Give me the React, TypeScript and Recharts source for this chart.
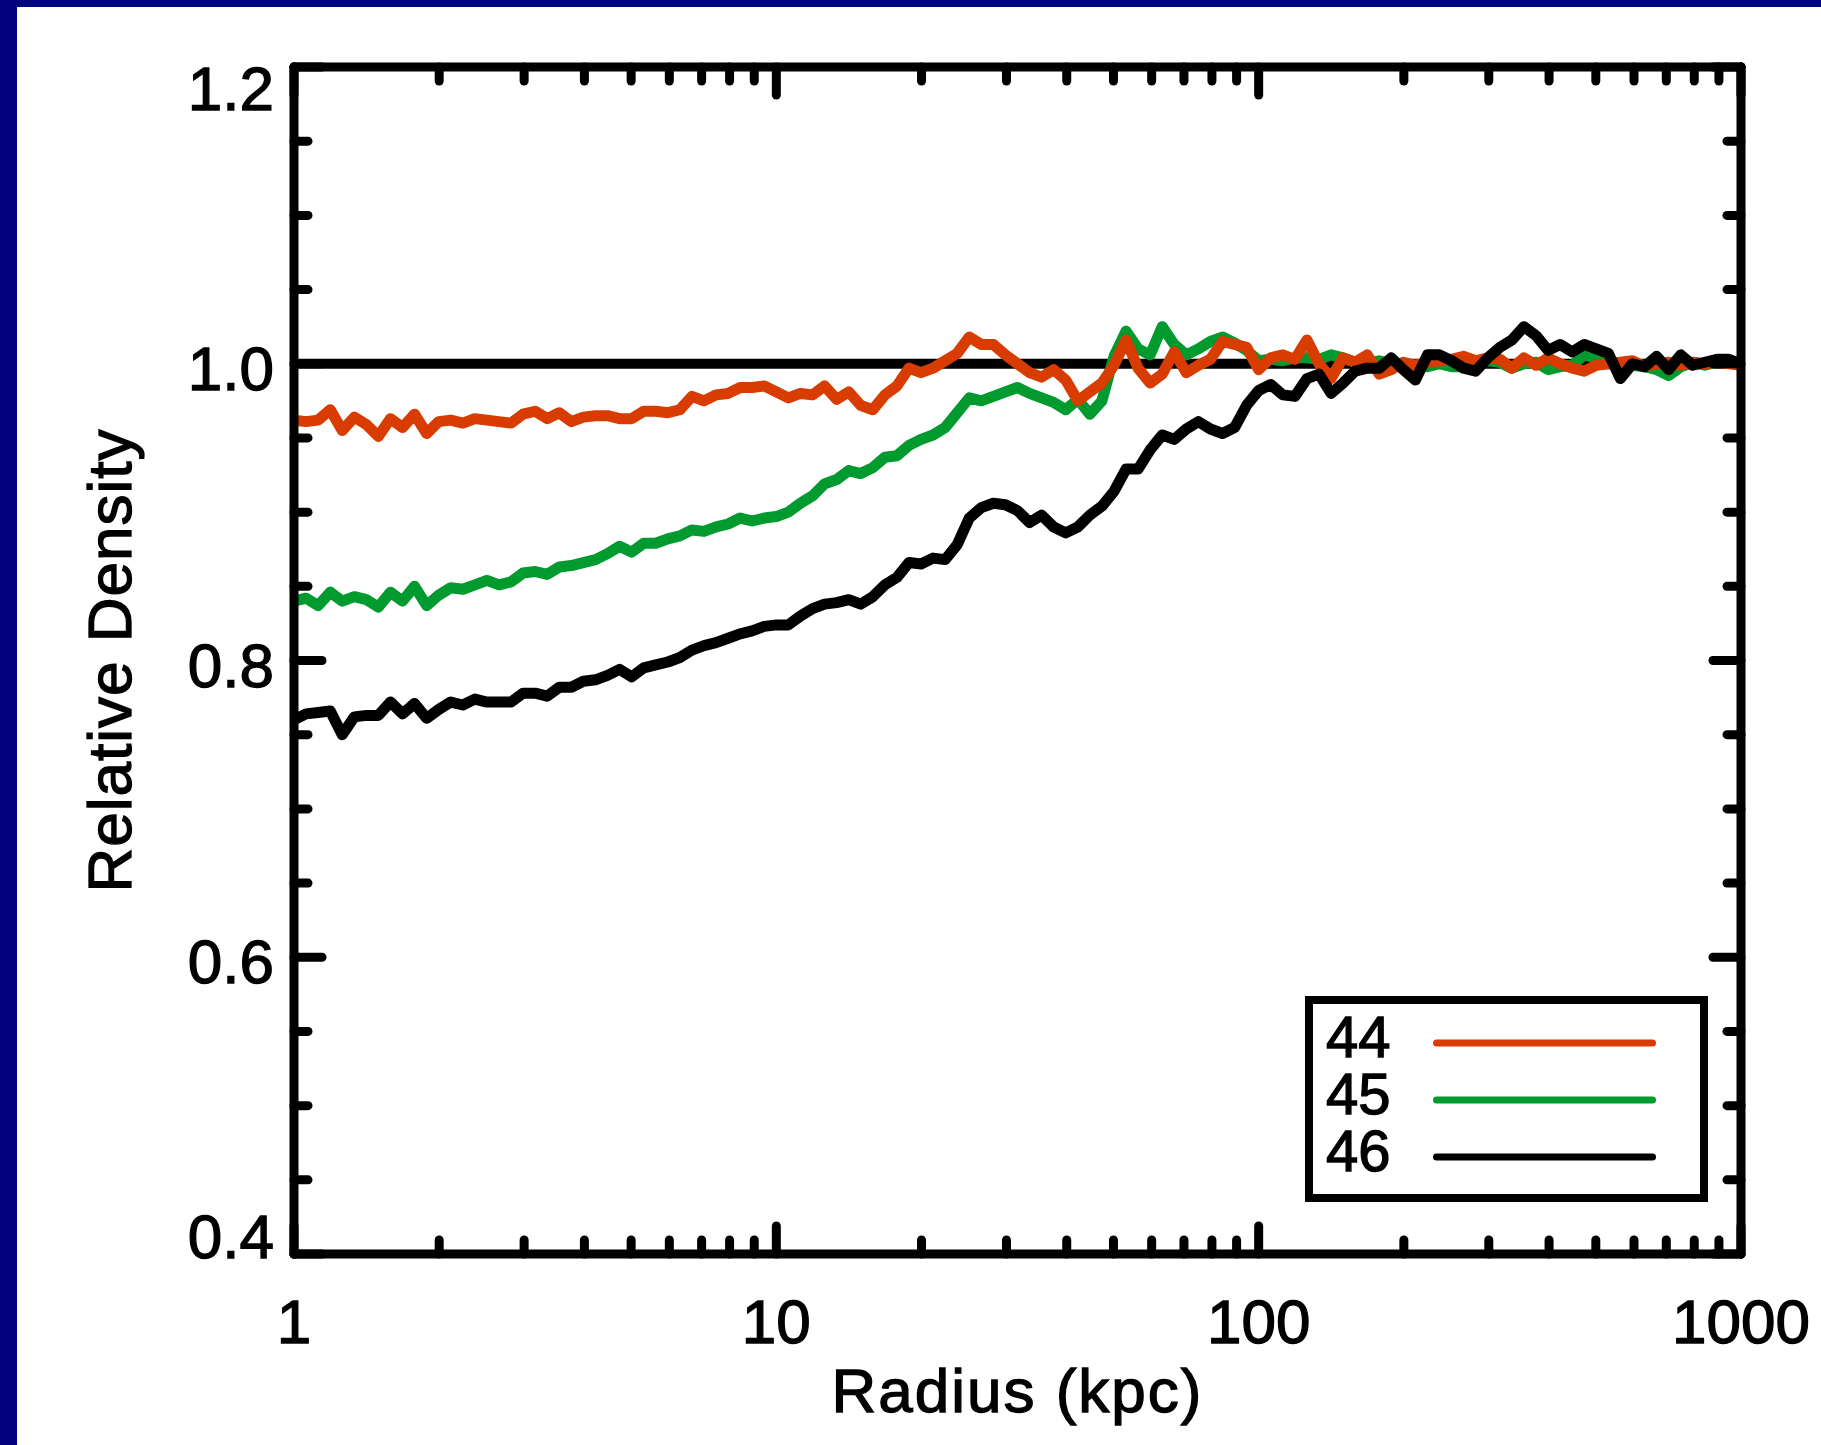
import { LineChart, Line, XAxis, YAxis, ReferenceLine, Legend, Label } from "recharts";

// radius grid (kpc)
const radius = [
  1, 1.059, 1.122, 1.189, 1.259, 1.334, 1.413, 1.496, 1.585, 1.679, 1.778, 1.884, 1.995, 2.113, 2.239, 2.371,
  2.512, 2.661, 2.818, 2.985, 3.162, 3.35, 3.548, 3.758, 3.981, 4.217, 4.467, 4.732, 5.012, 5.309, 5.623, 5.957,
  6.31, 6.683, 7.079, 7.499, 7.943, 8.414, 8.913, 9.441,
  10, 10.59, 11.22, 11.89, 12.59, 13.34, 14.13, 14.96, 15.85, 16.79, 17.78, 18.84, 19.95, 21.13, 22.39, 23.71,
  25.12, 26.61, 28.18, 29.85, 31.62, 33.5, 35.48, 37.58, 39.81, 42.17, 44.67, 47.32, 50.12, 53.09, 56.23, 59.57,
  63.1, 66.83, 70.79, 74.99, 79.43, 84.14, 89.13, 94.41,
  100, 105.9, 112.2, 118.9, 125.9, 133.4, 141.3, 149.6, 158.5, 167.9, 177.8, 188.4, 199.5, 211.3, 223.9, 237.1,
  251.2, 266.1, 281.8, 298.5, 316.2, 335, 354.8, 375.8, 398.1, 421.7, 446.7, 473.2, 501.2, 530.9, 562.3, 595.7,
  631, 668.3, 707.9, 749.9, 794.3, 841.4, 891.3, 944.1, 1000,
];

const rho44 = [
  0.962, 0.961, 0.962, 0.969, 0.955, 0.964, 0.959, 0.951, 0.963, 0.957,
  0.966, 0.953, 0.961, 0.962, 0.96, 0.963, 0.962, 0.961, 0.96, 0.966,
  0.968, 0.963, 0.967, 0.961, 0.964, 0.965, 0.965, 0.963, 0.963, 0.968,
  0.968, 0.967, 0.969, 0.978, 0.975, 0.979, 0.98, 0.984, 0.984, 0.985,
  0.981, 0.977, 0.98, 0.979, 0.985, 0.976, 0.981, 0.972, 0.969, 0.979,
  0.985, 0.997, 0.994, 0.997, 1.002, 1.007, 1.018, 1.013, 1.013, 1.006,
  1.0, 0.994, 0.991, 0.996, 0.989, 0.975, 0.981, 0.987, 0.999, 1.016,
  0.997, 0.987, 0.993, 1.008, 0.994, 0.999, 1.003, 1.015, 1.013, 1.011,
  0.996, 1.004, 1.006, 1.003, 1.016, 1.0, 0.99, 1.004, 1.001, 1.006,
  0.993, 0.996, 1.001, 0.999, 1.001, 1.002, 1.003, 1.005, 1.002, 1.004,
  1.003, 0.997, 1.004, 0.999, 1.004, 1.0, 0.997, 0.995, 0.999, 1.0,
  1.001, 1.002, 0.998, 1.0, 1.001, 0.999, 1.001, 1.0, 1.001, 1.0, 0.999,
];

const rho45 = [
  0.84, 0.842, 0.837, 0.846, 0.84, 0.843, 0.841, 0.836, 0.846, 0.84,
  0.85, 0.837, 0.844, 0.849, 0.848, 0.851, 0.854, 0.851, 0.853, 0.859,
  0.86, 0.858, 0.863, 0.864, 0.866, 0.868, 0.872, 0.877, 0.873, 0.879,
  0.879, 0.882, 0.884, 0.888, 0.887, 0.89, 0.892, 0.896, 0.894, 0.896,
  0.897, 0.9, 0.906, 0.911, 0.919, 0.922, 0.928, 0.926, 0.93, 0.937,
  0.938, 0.945, 0.949, 0.952, 0.957, 0.967, 0.977, 0.975, 0.978, 0.981,
  0.984, 0.98, 0.977, 0.974, 0.969, 0.976, 0.966, 0.975, 1.005, 1.022,
  1.01, 1.006, 1.025, 1.013, 1.006, 1.01, 1.015, 1.018, 1.014, 1.009,
  1.002, 1.003, 1.002, 1.004, 1.004, 1.003, 1.006, 1.004, 1.001, 1.0,
  1.002, 1.0, 0.998, 0.999, 0.998, 1.0, 0.998, 0.998, 0.999, 1.002,
  1.001, 0.997, 1.0, 1.001, 0.996, 0.998, 0.999, 1.006, 1.004, 1.0,
  1.0, 0.999, 0.998, 0.996, 0.992, 0.998, 1.001, 0.999, 1.001, 1.002, 1.0,
];

const rho46 = [
  0.76, 0.764, 0.765, 0.766, 0.75, 0.762, 0.763, 0.763, 0.772, 0.764,
  0.771, 0.761, 0.767, 0.772, 0.77, 0.774, 0.772, 0.772, 0.772, 0.778,
  0.778, 0.776, 0.782, 0.782, 0.786, 0.787, 0.79, 0.794, 0.789, 0.795,
  0.797, 0.799, 0.802, 0.807, 0.81, 0.812, 0.815, 0.818, 0.82, 0.823,
  0.824, 0.824, 0.83, 0.835, 0.838, 0.839, 0.841, 0.838, 0.843, 0.851,
  0.856, 0.866, 0.865, 0.869, 0.868, 0.878, 0.896, 0.903, 0.906, 0.905,
  0.901, 0.893, 0.898, 0.89, 0.886, 0.89, 0.898, 0.904, 0.914, 0.929,
  0.929, 0.942, 0.952, 0.949, 0.956, 0.961, 0.956, 0.953, 0.957, 0.972,
  0.982, 0.986, 0.979, 0.978, 0.99, 0.993, 0.98, 0.987, 0.995, 0.997,
  0.997, 1.004, 0.996, 0.989, 1.006, 1.006, 1.002, 0.997, 0.995, 1.004,
  1.011, 1.016, 1.025, 1.019, 1.009, 1.013, 1.008, 1.013, 1.01, 1.007,
  0.99, 1.0, 0.998, 1.005, 0.996, 1.006, 0.999, 1.001, 1.003, 1.003, 1.0,
];

const xTicks = [
  1, 2, 3, 4, 5, 6, 7, 8, 9, 10, 20, 30, 40, 50, 60, 70, 80, 90,
  100, 200, 300, 400, 500, 600, 700, 800, 900, 1000,
];
const xMajor = [1, 10, 100, 1000];
const yTicks = [0.4, 0.45, 0.5, 0.55, 0.6, 0.65, 0.7, 0.75, 0.8, 0.85, 0.9, 0.95, 1.0, 1.05, 1.1, 1.15, 1.2];
const yMajor = [0.4, 0.6, 0.8, 1.0, 1.2];

const rows = radius.map((r, i) => ({ r, s44: rho44[i], s45: rho45[i], s46: rho46[i] }));

const FONT = '"Liberation Sans", Arial, sans-serif';
const FS = 62;
const TW = 9;
const LW = 11;
const LONG = 28;
const SHORT = 14;
const MARGIN = { top: 66, right: 79, bottom: 0, left: 0 };
const TOP_AXIS_H = 1;
const PLOT_TOP = MARGIN.top + TOP_AXIS_H;
// a thin outline thickens the glyphs toward the heavier IDL vector font
const textInk = { fill: "#000", stroke: "#000", strokeWidth: 1.3 };

const tickLine = (x1: number, y1: number, x2: number, y2: number) => (
  <line x1={x1} y1={y1} x2={x2} y2={y2} stroke="#000" strokeWidth={TW} strokeLinecap="round" />
);

// bottom axis tick: inward mark, mirrored mark on the top frame, and the label
function BottomTick({ x, y, payload }: any) {
  const major = xMajor.includes(payload.value);
  const len = major ? LONG : SHORT;
  return (
    <g>
      {tickLine(x, y, x, y - len)}
      {tickLine(x, PLOT_TOP, x, PLOT_TOP + len)}
      {major && (
        <text x={x} y={y + 89} textAnchor="middle" fontSize={FS} fontFamily={FONT} {...textInk}>
          {payload.value}
        </text>
      )}
    </g>
  );
}

function LeftTick({ x, y, payload }: any) {
  const v = payload.value;
  const major = yMajor.includes(v);
  // IDL pulls the end labels inside the axis range
  const dy = v === 1.2 ? 43 : v === 0.4 ? 4 : 26;
  return (
    <g>
      {tickLine(x, y, x + (major ? LONG : SHORT), y)}
      {major && (
        <text x={x - 20} y={y + dy} textAnchor="end" fontSize={FS} fontFamily={FONT} {...textInk}>
          {v.toFixed(1)}
        </text>
      )}
    </g>
  );
}

function RightTick({ x, y, payload }: any) {
  const major = yMajor.includes(payload.value);
  return <g>{tickLine(x, y, x - (major ? LONG : SHORT), y)}</g>;
}

function YTitle({ viewBox }: any) {
  const cx = viewBox.x + 109;
  const cy = viewBox.y + viewBox.height / 2;
  return (
    <text
      x={cx}
      y={cy}
      transform={`rotate(-90 ${cx} ${cy})`}
      textAnchor="middle"
      dominantBaseline="central"
      fontSize={FS}
      fontFamily={FONT}
      letterSpacing={1}
      {...textInk}
    >
      Relative Density
    </text>
  );
}

function XTitle({ viewBox }: any) {
  return (
    <text
      x={viewBox.x + viewBox.width / 2}
      y={viewBox.y + 158}
      textAnchor="middle"
      fontSize={FS}
      fontFamily={FONT}
      letterSpacing={2}
      {...textInk}
    >
      Radius (kpc)
    </text>
  );
}

function LegendBox({ payload }: any) {
  const items = [...(payload || [])].sort((a: any, b: any) => Number(a.value) - Number(b.value));
  return (
    <svg width={403} height={206} style={{ display: "block" }}>
      <rect x={4} y={4} width={395} height={198} fill="#fff" stroke="#000" strokeWidth={8} />
      {items.map((p: any, i: number) => (
        <g key={p.value}>
          <text x={21} y={61 + i * 57} fontSize={58} fontFamily={FONT} {...textInk}>
            {p.value}
          </text>
          <line
            x1={131.5}
            x2={347.5}
            y1={47 + i * 57}
            y2={47 + i * 57}
            stroke={p.color}
            strokeWidth={7}
            strokeLinecap="round"
          />
        </g>
      ))}
    </svg>
  );
}

const axisStroke = { stroke: "#000", strokeWidth: TW, strokeLinecap: "round" as const };

export default function App() {
  return (
    <div style={{ position: "fixed", left: 0, top: 0, width: 1821, height: 1445, background: "#03037f" }}>
      <div style={{ position: "absolute", left: 17, top: 7, right: 0, bottom: 0, background: "#fff" }} />
      <div style={{ position: "absolute", left: 0, top: 0 }}>
        <LineChart width={1821} height={1445} data={rows} margin={MARGIN}>
          <XAxis
            dataKey="r"
            type="number"
            scale="log"
            domain={[1, 1000]}
            allowDataOverflow
            ticks={xTicks}
            interval={0}
            height={191}
            tickSize={0}
            tickMargin={0}
            tickLine={false}
            axisLine={axisStroke}
            tick={<BottomTick />}
          >
            <Label content={<XTitle />} />
          </XAxis>
          <XAxis
            xAxisId="top"
            orientation="top"
            type="number"
            scale="log"
            domain={[1, 1000]}
            allowDataOverflow
            height={TOP_AXIS_H}
            tickLine={false}
            axisLine={axisStroke}
            tick={false}
          />
          <YAxis
            type="number"
            domain={[0.4, 1.2]}
            allowDataOverflow
            ticks={yTicks}
            interval={0}
            width={294}
            tickSize={0}
            tickMargin={0}
            tickLine={false}
            axisLine={axisStroke}
            tick={<LeftTick />}
          >
            <Label content={<YTitle />} />
          </YAxis>
          <YAxis
            yAxisId="right"
            orientation="right"
            type="number"
            domain={[0.4, 1.2]}
            allowDataOverflow
            ticks={yTicks}
            interval={0}
            width={1}
            tickSize={0}
            tickMargin={0}
            tickLine={false}
            axisLine={axisStroke}
            tick={<RightTick />}
          />
          <ReferenceLine y={1} stroke="#000" strokeWidth={10} />
          <Line
            type="linear"
            dataKey="s45"
            name="45"
            stroke="#009a2e"
            strokeWidth={LW}
            strokeLinejoin="round"
            dot={false}
            isAnimationActive={false}
          />
          <Line
            type="linear"
            dataKey="s44"
            name="44"
            stroke="#d83c00"
            strokeWidth={LW}
            strokeLinejoin="round"
            dot={false}
            isAnimationActive={false}
          />
          <Line
            type="linear"
            dataKey="s46"
            name="46"
            stroke="#000"
            strokeWidth={LW}
            strokeLinejoin="round"
            dot={false}
            isAnimationActive={false}
          />
          <Legend
            layout="horizontal"
            verticalAlign="middle"
            align="center"
            content={<LegendBox />}
            wrapperStyle={{ left: 1305, top: 996, width: 403, height: 206 }}
          />
        </LineChart>
      </div>
    </div>
  );
}
